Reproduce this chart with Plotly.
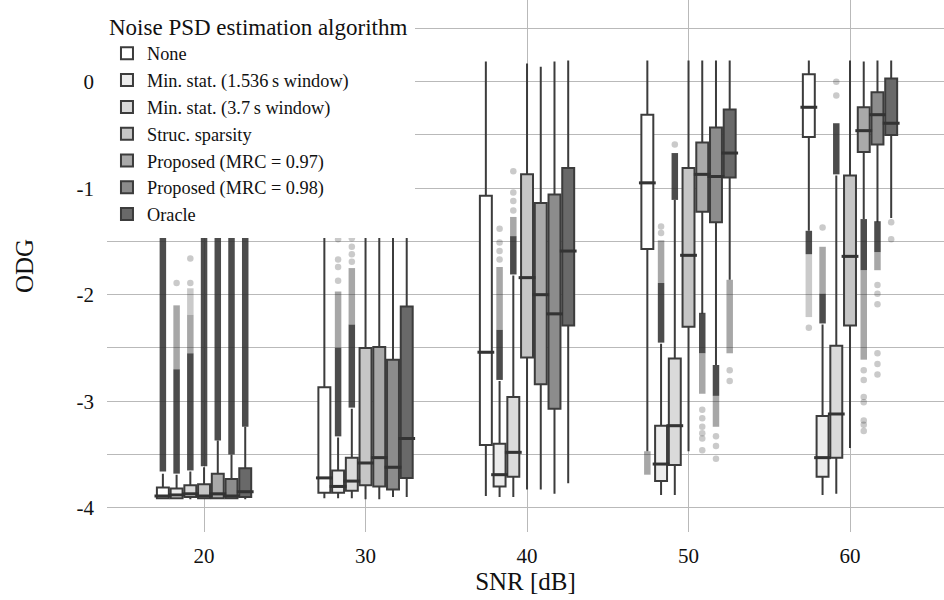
import plotly.graph_objects as go

# ---------------------------------------------------------------- data
SNR = [20, 30, 40, 50, 60]

ALGORITHMS = [
    "None",
    "Min. stat. (1.536\u2009s window)",
    "Min. stat. (3.7\u2009s window)",
    "Struc. sparsity",
    "Proposed (MRC = 0.97)",
    "Proposed (MRC = 0.98)",
    "Oracle",
]

FILLS = ["#ffffff", "#ececec", "#dadada", "#c6c6c6", "#a9a9a9", "#8c8c8c", "#696969"]

# box statistics per algorithm, one value per SNR
Q1 = [
    [-3.91, -3.86, -3.41, -1.57, -0.52],
    [-3.91, -3.86, -3.80, -3.75, -3.71],
    [-3.90, -3.84, -3.71, -3.60, -3.53],
    [-3.91, -3.79, -2.59, -2.30, -2.29],
    [-3.91, -3.80, -2.84, -1.22, -0.66],
    [-3.91, -3.83, -3.07, -1.32, -0.59],
    [-3.90, -3.72, -2.29, -0.90, -0.50],
]
MEDIAN = [
    [-3.89, -3.72, -2.54, -0.95, -0.24],
    [-3.88, -3.80, -3.69, -3.59, -3.53],
    [-3.87, -3.75, -3.48, -3.23, -3.12],
    [-3.89, -3.58, -1.84, -1.63, -1.64],
    [-3.87, -3.53, -2.00, -0.87, -0.46],
    [-3.89, -3.62, -2.18, -0.89, -0.31],
    [-3.85, -3.35, -1.59, -0.67, -0.39],
]
Q3 = [
    [-3.81, -2.87, -1.07, -0.31, 0.07],
    [-3.82, -3.65, -3.40, -3.23, -3.14],
    [-3.79, -3.53, -2.96, -2.60, -2.48],
    [-3.78, -2.50, -0.87, -0.81, -0.88],
    [-3.68, -2.49, -1.14, -0.57, -0.24],
    [-3.73, -2.61, -1.06, -0.43, -0.10],
    [-3.63, -2.11, -0.81, -0.26, 0.03],
]
LOWER = [
    [-3.92, -3.91, -3.89, -3.47, -1.40],
    [-3.92, -3.91, -3.90, -3.88, -3.88],
    [-3.92, -3.91, -3.90, -3.88, -3.87],
    [-3.92, -3.92, -3.83, -3.47, -3.44],
    [-3.92, -3.92, -3.83, -2.18, -1.29],
    [-3.92, -3.90, -3.87, -2.66, -1.32],
    [-3.92, -3.90, -3.77, -1.86, -1.28],
]
UPPER = [
    [-3.68, 0.15, 0.19, 0.20, 0.20],
    [-3.69, -3.34, -2.81, -2.46, -2.28],
    [-3.66, -3.07, -1.82, -1.11, -0.88],
    [-3.62, 0.15, 0.17, 0.20, 0.20],
    [-3.37, 0.15, 0.14, 0.20, 0.19],
    [-3.50, 0.15, 0.19, 0.20, 0.20],
    [-3.24, 0.15, 0.20, 0.20, 0.20],
]

# outliers: dense bands of overlapping points as (snr, low, high)
DARK_BANDS = [
    [(20, -3.66, -1.2), (60, -1.62, -1.40)],
    [(20, -3.68, -2.70), (30, -3.33, -2.50), (40, -2.80, -2.33), (50, -2.45, -1.89), (60, -2.27, -1.99)],
    [(20, -3.65, -2.55), (30, -3.06, -2.28), (40, -1.81, -1.45), (50, -1.11, -0.67), (60, -0.87, -0.39)],
    [(20, -3.61, -1.2)],
    [(20, -3.37, -1.2), (50, -2.55, -2.17), (60, -1.77, -1.29)],
    [(20, -3.50, -1.2), (50, -2.95, -2.66), (60, -1.60, -1.31)],
    [(20, -3.24, -1.2)],
]
MID_BANDS = [
    [(50, -3.69, -3.47)],
    [(20, -2.70, -2.10), (30, -2.50, -1.97), (40, -2.33, -1.74), (50, -1.89, -1.49), (60, -1.99, -1.55)],
    [(20, -2.55, -2.19), (30, -2.28, -1.75), (40, -1.45, -1.27)],
    [],
    [(50, -2.93, -2.55), (60, -2.61, -1.77)],
    [(50, -3.24, -2.95), (60, -1.77, -1.60)],
    [(50, -2.55, -1.86)],
]
LIGHT_BANDS = [
    [(60, -2.21, -1.62)],
    [],
    [(20, -2.19, -1.94)],
    [],
    [],
    [],
    [],
]
# isolated outliers as (snr, value)
SINGLE_POINTS = [
    [(60, -2.31)],
    [(20, -1.89), (30, -1.87), (30, -1.74), (30, -1.67), (30, -1.48), (40, -1.67), (40, -1.59),
     (40, -1.51), (40, -1.38), (50, -1.42), (50, -1.36), (60, -1.37)],
    [(20, -1.89), (20, -1.66), (30, -1.69), (30, -1.62), (30, -1.55), (30, -1.47), (40, -1.21),
     (40, -1.12), (40, -1.04), (40, -0.84), (50, -0.59), (60, -0.13), (60, 0.00)],
    [],
    [(50, -3.08), (50, -3.16), (50, -3.24), (50, -3.30), (50, -3.35), (50, -3.46), (60, -2.71),
     (60, -2.80), (60, -2.96), (60, -3.01), (60, -3.18), (60, -3.22), (60, -3.28)],
    [(50, -3.33), (50, -3.42), (50, -3.54), (60, -1.91), (60, -1.99), (60, -2.09), (60, -2.55),
     (60, -2.65), (60, -2.75)],
    [(50, -2.71), (50, -2.81), (60, -1.32), (60, -1.48)],
]

Y_TICKS = [-4, -3.5, -3, -2.5, -2, -1.5, -1, -0.5, 0, 0.5]
Y_TICK_TEXT = ["-4", "", "-3", "", "-2", "", "-1", "", "0", ""]

# ---------------------------------------------------------------- style
FONT = "Liberation Serif"
EDGE = "#3c3c3c"
GRID = "#b9b9b9"
BOX_GAP = 0.405
GROUP_GAP = 0.13


def band_xy(bands):
    xs, ys = [], []
    for snr, lo, hi in bands:
        xs += [snr, snr, None]
        ys += [lo, hi, None]
    return xs, ys


fig = go.Figure()

for i, name in enumerate(ALGORITHMS):
    group = f"g{i}"
    # outlier bands drawn beneath the boxes
    for bands, alpha in ((LIGHT_BANDS[i], 0.25), (MID_BANDS[i], 0.42), (DARK_BANDS[i], 0.85)):
        if not bands:
            continue
        bx, by = band_xy(bands)
        fig.add_trace(go.Scatter(
            x=bx, y=by, mode="lines", offsetgroup=group, showlegend=False,
            hoverinfo="skip", line=dict(color=f"rgba(45,45,45,{alpha})", width=6.5),
        ))
    if SINGLE_POINTS[i]:
        fig.add_trace(go.Scatter(
            x=[p[0] for p in SINGLE_POINTS[i]], y=[p[1] for p in SINGLE_POINTS[i]],
            mode="markers", offsetgroup=group, showlegend=False, hoverinfo="skip",
            marker=dict(size=6.5, color="rgba(45,45,45,0.25)", line=dict(width=0)),
        ))

    fig.add_trace(go.Box(
        x=SNR, q1=Q1[i], median=MEDIAN[i], q3=Q3[i],
        lowerfence=LOWER[i], upperfence=UPPER[i],
        name=name, offsetgroup=group, boxpoints=False, whiskerwidth=0,
        fillcolor=FILLS[i], line=dict(color=EDGE, width=2),
    ))

    # thicker median bar on top of each box
    fig.add_trace(go.Scatter(
        x=SNR, y=MEDIAN[i], mode="markers", offsetgroup=group, showlegend=False,
        hoverinfo="skip",
        marker=dict(symbol="line-ew", size=12, line=dict(color="#333333", width=3)),
    ))

fig.update_layout(
    width=944, height=600,
    margin=dict(l=107, r=0, t=0, b=68),
    paper_bgcolor="white", plot_bgcolor="white",
    font=dict(family=FONT, size=21, color="#111111"),
    boxmode="group", boxgap=BOX_GAP, boxgroupgap=GROUP_GAP,
    scattermode="group", scattergap=BOX_GAP,
    legend=dict(
        x=-0.006, y=1, xanchor="left", yanchor="top",
        bgcolor="white", bordercolor="white", borderwidth=5,
        font=dict(family=FONT, size=18.3, color="#111111"),
        title=dict(text="Noise PSD estimation algorithm", font=dict(family=FONT, size=23)),
    ),
    xaxis=dict(
        range=[13.99, 65.82], tickvals=SNR, ticktext=[str(s) for s in SNR],
        showgrid=True, gridcolor=GRID, gridwidth=1.3, zeroline=False, showline=False,
        ticks="", ticklabelstandoff=9,
        title=dict(text="SNR [dB]", standoff=4),
    ),
    yaxis=dict(
        range=[-4.228, 0.767], tickmode="array", tickvals=Y_TICKS, ticktext=Y_TICK_TEXT,
        showgrid=True, gridcolor=GRID, gridwidth=1.3, zeroline=False, showline=False,
        ticks="", ticklabelstandoff=12,
        title=dict(text="ODG", standoff=35),
    ),
)

fig.write_html("out.html")
